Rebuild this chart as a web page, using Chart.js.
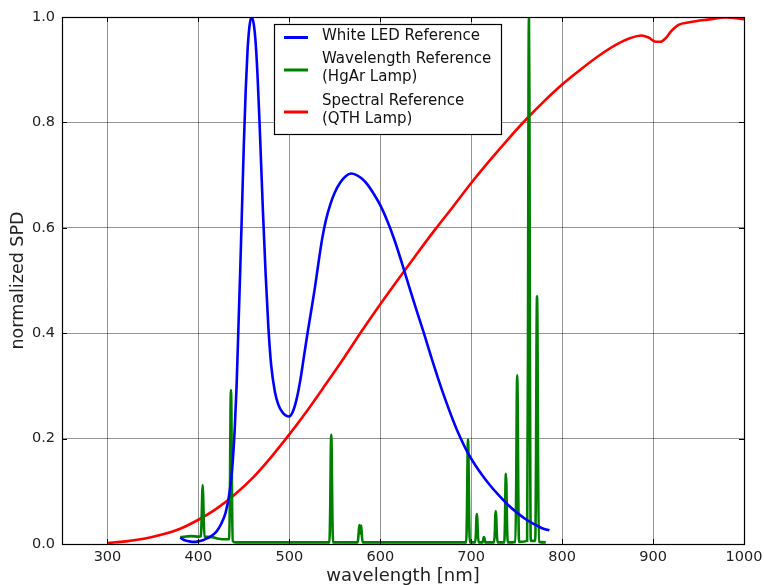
<!DOCTYPE html>
<html>
<head>
<meta charset="utf-8">
<script src="https://cdn.jsdelivr.net/npm/chart.js@4/dist/chart.umd.min.js"></script>
<style>
html,body{margin:0;padding:0;background:#fff;}
#wrap{width:764px;height:585px;}
</style>
</head>
<body>
<div id="wrap"><canvas id="c" width="764" height="585"></canvas></div>
<script>
// ---- data ----
const xTicks = [300, 400, 500, 600, 700, 800, 900, 1000];
const yTicks = [0.0, 0.2, 0.4, 0.6, 0.8, 1.0];

const ledLabel = ['White LED Reference'];
const ledWl = [380,385,390,395,400,405,410,415,420,425,430,434,437,440,442,444,446,448,450,452,454,456,458.5,461,463,465,467,469,471,474,477,480,484,488,492,496,500,504,508,512,516,520,524,528,532,536,540,545,550,556,562,568,574,580,586,593,600,608,616,624,632,640,648,656,664,672,680,688,696,704,712,720,730,740,750,760,770,778,786];
const ledVal = [0.012,0.007,0.005,0.004,0.005,0.007,0.011,0.016,0.024,0.038,0.06,0.095,0.14,0.22,0.3,0.41,0.52,0.64,0.76,0.86,0.935,0.98,1.0,0.985,0.95,0.89,0.81,0.72,0.63,0.51,0.41,0.34,0.29,0.264,0.251,0.244,0.242,0.252,0.275,0.31,0.355,0.4,0.442,0.485,0.533,0.578,0.613,0.644,0.667,0.686,0.698,0.703,0.7,0.693,0.682,0.664,0.643,0.612,0.575,0.532,0.487,0.443,0.4,0.355,0.312,0.272,0.235,0.202,0.174,0.151,0.131,0.113,0.093,0.075,0.06,0.047,0.037,0.03,0.026];

const hgLabel = ['Wavelength Reference', '(HgAr Lamp)'];
const hgWl = [380,392,401,402.7,403.6,404.2,404.7,405.2,405.8,406.7,415,422,432,433.8,434.7,435.3,435.8,436.3,436.9,437.8,441,
  544,545,545.6,546.1,546.6,547.2,548.1,575.2,576.2,577,577.9,578.2,579,579.8,580.8,
  694.5,695.4,696,696.5,697,697.6,698.5,704.3,705.2,705.7,706.2,706.7,707.3,708.2,712.5,713.5,714,714.5,715.5,
  725,726,726.5,727,727.5,728.1,729,736.3,737.2,737.7,738.2,738.7,739.3,740.2,
  748.6,749.5,750.1,750.6,751.1,751.7,752.6,761.5,762.4,763,763.5,764,764.6,765.5,
  770.4,771.3,771.9,772.4,772.9,773.5,774.4,782];
const hgVal = [0.013,0.015,0.014,0.015,0.05,0.095,0.112,0.095,0.05,0.014,0.013,0.01,0.009,0.01,0.1,0.25,0.292,0.25,0.1,0.006,0.003,
  0.003,0.072,0.176,0.207,0.176,0.072,0.003,0.003,0.02,0.036,0.02,0.02,0.035,0.015,0.003,
  0.003,0.07,0.168,0.198,0.168,0.07,0.003,0.003,0.02,0.048,0.057,0.048,0.02,0.003,0.003,0.011,0.013,0.011,0.003,
  0.003,0.022,0.053,0.062,0.053,0.022,0.003,0.003,0.047,0.113,0.133,0.113,0.047,0.003,
  0.004,0.112,0.272,0.32,0.272,0.112,0.004,0.006,0.35,0.85,1.0,0.85,0.35,0.006,
  0.006,0.165,0.4,0.47,0.4,0.165,0.004,0.003];

const qthLabel = ['Spectral Reference', '(QTH Lamp)'];
const qthWl = [300,320,340,360,380,400,420,440,460,480,500,520,540,560,580,600,620,640,660,680,700,720,740,760,780,800,820,840,860,875,887,895,903,908,914,920,928,940,960,980,1000];
const qthVal = [0.002,0.005,0.01,0.018,0.029,0.046,0.067,0.094,0.126,0.165,0.208,0.254,0.303,0.353,0.405,0.455,0.503,0.55,0.596,0.64,0.685,0.727,0.767,0.805,0.84,0.872,0.9,0.926,0.948,0.96,0.965,0.961,0.953,0.953,0.96,0.973,0.985,0.99,0.995,0.999,0.996];

const xTitle = 'wavelength [nm]';
const yTitle = 'normalized SPD';

// ---- chart ----
const pts = (xs, ys) => xs.map((x, i) => ({x: x, y: ys[i]}));
const FONT = "'DejaVu Sans', sans-serif";

const frameAndLegend = {
  id: 'frameAndLegend',
  afterDatasetsDraw(chart) {
    const ctx = chart.ctx;
    const a = chart.chartArea;
    const xs = chart.scales.x, ys = chart.scales.y;
    ctx.save();
    ctx.strokeStyle = '#000';
    ctx.lineWidth = 1;
    ctx.beginPath();
    xTicks.forEach(v => {
      const px = Math.round(xs.getPixelForValue(v)) + 0.5;
      ctx.moveTo(px, a.bottom); ctx.lineTo(px, a.bottom - 5);
      ctx.moveTo(px, a.top); ctx.lineTo(px, a.top + 5);
    });
    yTicks.forEach(v => {
      const py = Math.round(ys.getPixelForValue(v)) + 0.5;
      ctx.moveTo(a.left, py); ctx.lineTo(a.left + 5, py);
      ctx.moveTo(a.right, py); ctx.lineTo(a.right - 5, py);
    });
    ctx.stroke();
    ctx.lineWidth = 1.2;
    ctx.strokeRect(Math.round(a.left) + 0.5, Math.round(a.top) + 0.5, Math.round(a.right - a.left), Math.round(a.bottom - a.top));
    // legend
    const bx = 274.5, by = 24.5, bw = 227, bh = 110;
    ctx.fillStyle = '#fff';
    ctx.fillRect(bx, by, bw, bh);
    ctx.strokeStyle = '#000';
    ctx.lineWidth = 1.2;
    ctx.strokeRect(bx, by, bw, bh);
    ctx.font = '15px ' + FONT;
    ctx.textBaseline = 'middle';
    ctx.textAlign = 'left';
    const lineY = [37.5, 70, 112];
    const textY = [[36], [59.5, 77.5], [101, 119]];
    chart.data.datasets.forEach((ds, i) => {
      ctx.strokeStyle = ds.borderColor;
      ctx.lineWidth = 3;
      ctx.beginPath();
      ctx.moveTo(284, lineY[i]); ctx.lineTo(308, lineY[i]);
      ctx.stroke();
      ctx.fillStyle = '#111';
      ds.label.forEach((t, j) => ctx.fillText(t, 322, textY[i][j]));
    });
    ctx.restore();
  }
};

new Chart(document.getElementById('c'), {
  type: 'line',
  data: {
    datasets: [
      { label: ledLabel, data: pts(ledWl, ledVal), borderColor: '#0000ff', borderWidth: 2.6, pointRadius: 0, fill: false, cubicInterpolationMode: 'monotone' },
      { label: hgLabel, data: pts(hgWl, hgVal), borderColor: '#008000', borderWidth: 2.6, pointRadius: 0, fill: false, cubicInterpolationMode: 'monotone' },
      { label: qthLabel, data: pts(qthWl, qthVal), borderColor: '#ff0000', borderWidth: 2.6, pointRadius: 0, fill: false, cubicInterpolationMode: 'monotone' }
    ]
  },
  options: {
    responsive: false,
    animation: false,
    events: [],
    layout: { padding: { left: 0, right: 20, top: 17, bottom: 0 } },
    plugins: { legend: { display: false }, tooltip: { enabled: false } },
    scales: {
      x: {
        type: 'linear', min: 250, max: 1000,
        afterBuildTicks: s => { s.ticks = xTicks.map(v => ({value: v})); },
        afterFit: s => { s.height = 41; s.paddingLeft = 0; s.paddingRight = 0; },
        grid: { color: 'rgba(0,0,0,0.42)', lineWidth: 1, drawTicks: false },
        border: { display: false },
        ticks: { padding: 5, color: '#222', font: { family: FONT, size: 14.5 }, callback: v => String(v) },
        title: { display: true, text: xTitle, color: '#222', font: { family: FONT, size: 18, lineHeight: 1.0 }, padding: { top: 0, bottom: 0 } }
      },
      y: {
        type: 'linear', min: 0, max: 1,
        afterBuildTicks: s => { s.ticks = yTicks.map(v => ({value: v})); },
        afterFit: s => { s.width = 62; s.paddingTop = 0; s.paddingBottom = 0; },
        grid: { color: 'rgba(0,0,0,0.42)', lineWidth: 1, drawTicks: false },
        border: { display: false },
        ticks: { padding: 7, color: '#222', font: { family: FONT, size: 14.5 }, callback: v => v.toFixed(1) },
        title: { display: true, text: yTitle, color: '#222', font: { family: FONT, size: 17.5, lineHeight: 1.0 }, padding: { top: 9.5, bottom: 0 } }
      }
    }
  },
  plugins: [frameAndLegend]
});
</script>
</body>
</html>
